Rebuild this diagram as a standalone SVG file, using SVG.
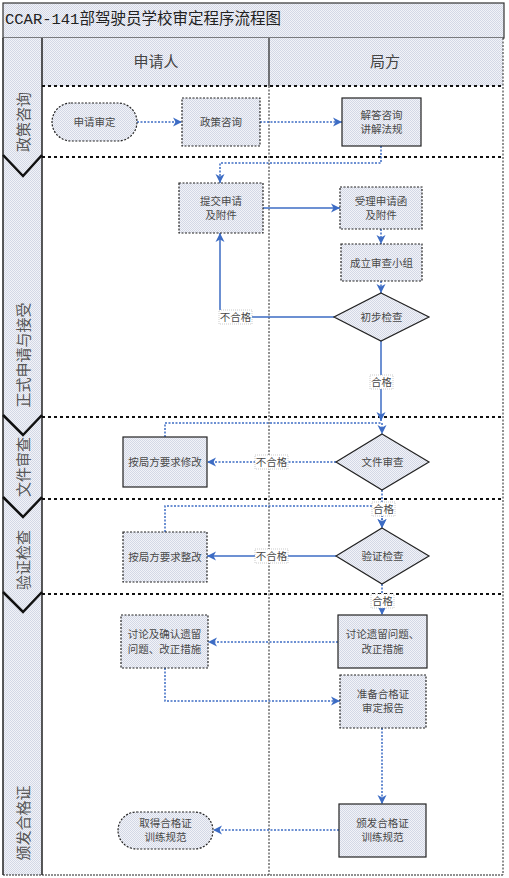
<svg xmlns="http://www.w3.org/2000/svg" width="509" height="878" viewBox="0 0 509 878">
<defs>
<pattern id="dots" width="2" height="2" patternUnits="userSpaceOnUse">
<rect width="2" height="2" fill="#f2f3f8"/>
<rect width="1" height="1" fill="#d3d8e6"/>
<rect x="1" y="1" width="1" height="1" fill="#d3d8e6"/>
</pattern>
<marker id="arr" markerUnits="userSpaceOnUse" markerWidth="10" markerHeight="10" refX="9" refY="5" orient="auto">
<path d="M0,0.5 L9,5 L0,9.5 L2.5,5 Z" fill="#3d6cc4"/>
</marker>
<style>
.panel{fill:url(#dots)}
.node{fill:url(#dots);stroke:#222;stroke-width:1.2}
.dash{stroke-dasharray:2 1.5}
.t{font-family:"Liberation Serif","Noto Sans CJK SC",serif;font-size:10.5px;fill:#484848;text-anchor:middle;dominant-baseline:central}
.lane{font-family:"Liberation Serif","Noto Sans CJK SC",serif;font-size:15px;fill:#444;text-anchor:middle;dominant-baseline:central}
.phase{font-family:"Liberation Serif","Noto Sans CJK SC",serif;font-size:15px;fill:#555;text-anchor:middle;dominant-baseline:central}
.c{fill:none;stroke:#3d6cc4;stroke-width:1.5;marker-end:url(#arr)}
.cd{stroke-dasharray:2 1.5}
.sep{stroke:#111;stroke-width:2;stroke-dasharray:3 3;fill:none}
.lbl{fill:#fff;stroke:#aaa;stroke-width:0.6;stroke-dasharray:1 1}
</style>
</defs>
<rect width="509" height="878" fill="#fff"/>
<g id="frame">
<rect class="panel" x="3" y="3" width="501" height="35" stroke="#333" stroke-width="1.2"/>
<text x="5" y="20" font-family="Liberation Mono,'Noto Sans CJK SC',monospace" font-size="15.5" fill="#222" dominant-baseline="central">CCAR-141部驾驶员学校审定程序流程图</text>
<rect class="panel" x="42" y="38" width="461" height="48"/>
<rect class="panel" x="3" y="38" width="39" height="837"/>
<line x1="3" y1="38" x2="3" y2="875" stroke="#222" stroke-width="1.5"/>
<line x1="42" y1="38" x2="42" y2="875" stroke="#222" stroke-width="1.5"/>
<line x1="269" y1="38" x2="269" y2="86" stroke="#222" stroke-width="1.2"/>
<line x1="269" y1="86" x2="269" y2="875" stroke="#222" stroke-width="1" stroke-dasharray="2 1.5"/>
<line x1="503" y1="38" x2="503" y2="875" stroke="#222" stroke-width="1" stroke-dasharray="2 1.5"/>
<line x1="3" y1="875" x2="503" y2="875" stroke="#222" stroke-width="1.2" stroke-dasharray="2 1"/>
<text class="lane" x="156" y="62">申请人</text>
<text class="lane" x="385" y="62">局方</text>
<line class="sep" x1="42" y1="86" x2="503" y2="86"/>
<line class="sep" x1="42" y1="157" x2="503" y2="157"/>
<line class="sep" x1="42" y1="417" x2="503" y2="417"/>
<line class="sep" x1="42" y1="499" x2="503" y2="499"/>
<line class="sep" x1="42" y1="594" x2="503" y2="594"/>
<g fill="none" stroke="#111" stroke-width="2.5">
<polyline points="3,155 23,176 42,155"/>
<polyline points="3,415 23,435 42,415"/>
<polyline points="3,497 23,517 42,497"/>
<polyline points="3,592 23,612 42,592"/>
</g>
<text class="phase" transform="translate(24,122) rotate(-90)">政策咨询</text>
<text class="phase" transform="translate(24,355) rotate(-90)">正式申请与接受</text>
<text class="phase" transform="translate(24,467) rotate(-90)">文件审查</text>
<text class="phase" transform="translate(24,560) rotate(-90)">验证检查</text>
<text class="phase" transform="translate(24,823) rotate(-90)">颁发合格证</text>
</g>
<g id="connectors">
<path class="c cd" d="M137,122 H182"/>
<path class="c cd" d="M260,122 H342"/>
<path class="c cd" d="M381,146 V163 H220 V183"/>
<path class="c" d="M263,208 H340"/>
<path class="c cd" d="M381,229 V244"/>
<path class="c cd" d="M381,281 V293"/>
<path class="c" d="M334,317 H220 V233"/>
<path class="c" d="M381,341 V421"/>
<path class="c cd" d="M165,437 V423 H382 V434"/>
<path class="c cd" d="M336,462 H207"/>
<path class="c cd" d="M382,490 V528"/>
<path class="c cd" d="M165,532 V506 H382 V528"/>
<path class="c" d="M336,556 H207"/>
<path class="c cd" d="M382,584 V615"/>
<path class="c cd" d="M338,642 H208"/>
<path class="c cd" d="M165,668 V701 H340"/>
<path class="c cd" d="M382,728 V804"/>
<path class="c cd" d="M339,830 H213"/>
<rect class="lbl" x="219" y="310" width="33" height="14"/>
<text class="t" x="235.5" y="317">不合格</text>
<rect class="lbl" x="370" y="375" width="23" height="14"/>
<text class="t" x="381.5" y="382">合格</text>
<rect class="lbl" x="255" y="455" width="33" height="14"/>
<text class="t" x="271.5" y="462">不合格</text>
<rect class="lbl" x="372" y="502" width="23" height="14"/>
<text class="t" x="383.5" y="509">合格</text>
<rect class="lbl" x="255" y="549" width="33" height="14"/>
<text class="t" x="271.5" y="556">不合格</text>
<rect class="lbl" x="371" y="594" width="23" height="14"/>
<text class="t" x="382.5" y="601">合格</text>
</g>
<g id="n1"><rect class="node dash" x="52" y="103" width="85" height="38" rx="19"/><text class="t" x="94.5" y="122">申请审定</text></g>
<g id="n2"><rect class="node dash" x="182" y="98" width="78" height="48"/><text class="t" x="221" y="122">政策咨询</text></g>
<g id="n3"><rect class="node" x="342" y="98" width="79" height="48"/><text class="t" x="381.5" y="115">解答咨询</text><text class="t" x="381.5" y="129">讲解法规</text></g>
<g id="n4"><rect class="node dash" x="179" y="183" width="84" height="50"/><text class="t" x="221" y="201">提交申请</text><text class="t" x="221" y="215">及附件</text></g>
<g id="n5"><rect class="node dash" x="340" y="187" width="82" height="42"/><text class="t" x="381" y="201">受理申请函</text><text class="t" x="381" y="215">及附件</text></g>
<g id="n6"><rect class="node dash" x="341" y="244" width="81" height="37"/><text class="t" x="381.5" y="263">成立审查小组</text></g>
<g id="n7"><polygon class="node" points="381,293 429,317 381,341 334,317"/><text class="t" x="381.5" y="317">初步检查</text></g>
<g id="n8"><polygon class="node" points="382,434 429,462 382,490 336,462"/><text class="t" x="382.5" y="462">文件审查</text></g>
<g id="n9"><rect class="node" x="123" y="437" width="84" height="50"/><text class="t" x="165" y="462">按局方要求修改</text></g>
<g id="n10"><polygon class="node" points="382,528 429,556 382,584 336,556"/><text class="t" x="382.5" y="556">验证检查</text></g>
<g id="n11"><rect class="node dash" x="123" y="532" width="84" height="50"/><text class="t" x="165" y="557">按局方要求整改</text></g>
<g id="n12"><rect class="node" x="338" y="615" width="89" height="53"/><text class="t" x="382.5" y="634">讨论遗留问题、</text><text class="t" x="382.5" y="649">改正措施</text></g>
<g id="n13"><rect class="node dash" x="121" y="615" width="87" height="53"/><text class="t" x="164.5" y="634">讨论及确认遗留</text><text class="t" x="164.5" y="649">问题、改正措施</text></g>
<g id="n14"><rect class="node dash" x="340" y="675" width="86" height="53"/><text class="t" x="383" y="694">准备合格证</text><text class="t" x="383" y="708">审定报告</text></g>
<g id="n15"><rect class="node" x="339" y="804" width="87" height="53"/><text class="t" x="382.5" y="823">颁发合格证</text><text class="t" x="382.5" y="837">训练规范</text></g>
<g id="n16"><rect class="node dash" x="118" y="812" width="95" height="37" rx="18.5"/><text class="t" x="165.5" y="823">取得合格证</text><text class="t" x="165.5" y="837">训练规范</text></g>
</svg>
